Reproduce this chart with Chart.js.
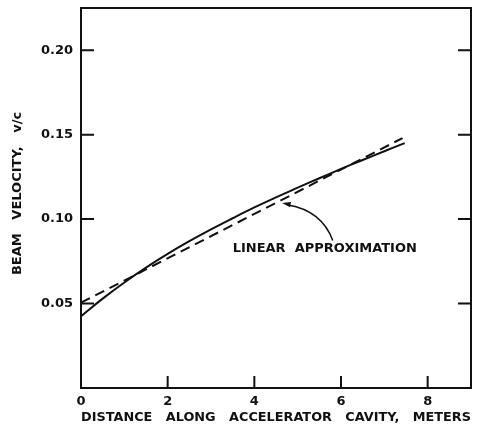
<!DOCTYPE html>
<html lang="en">
  <head>
    <meta charset="UTF-8" />
    <title>Beam Velocity</title>
    <script src="https://cdn.jsdelivr.net/npm/chart.js"></script>
    <style>
      html, body { margin: 0; padding: 0; background: #fff; }
      #wrap { width: 481px; height: 427px; }
    </style>
  </head>
  <body>
    <div id="wrap"><canvas id="beamChart"></canvas></div>
    <script>
      // curve (meters, v/c)
      const distance = [0, 0.5, 1, 1.5, 2, 2.5, 3, 3.5, 4, 4.5, 5, 5.5, 6, 6.5, 7, 7.47];
      const velocity = [0.0425, 0.0529, 0.0625, 0.0713, 0.0794, 0.0869, 0.0939, 0.1005,
                        0.1069, 0.1129, 0.1186, 0.1242, 0.1297, 0.1350, 0.1402, 0.1450];
      // the linear approximation
      const linearX = [0, 7.42];
      const linearY = [0.0505, 0.148];

      const xTicks = [0, 2, 4, 6, 8];
      const yTicks = [0.05, 0.10, 0.15, 0.20];

      const labelText = "LINEAR  APPROXIMATION";
      const labelAt = { x: 3.5, y: 0.0828 };
      const arrowFrom = { x: 5.81, y: 0.0874 };
      const arrowBend = { x: 5.55, y: 0.1050 };
      const arrowTo = { x: 4.64, y: 0.1095 };

      const font = "'DejaVu Sans', sans-serif";
      const ink = "#111";

      const toPoints = (xs, ys) => xs.map((x, i) => ({ x: x, y: ys[i] }));

      // frame, inward tick marks and the arrow annotation
      const framePlugin = {
        id: "frame",
        afterDraw(chart) {
          const ctx = chart.ctx;
          const a = chart.chartArea;
          const xs = chart.scales.x;
          const ys = chart.scales.y;
          ctx.save();
          ctx.strokeStyle = ink;
          ctx.lineWidth = 2;
          ctx.strokeRect(a.left, a.top, a.right - a.left, a.bottom - a.top);

          ctx.beginPath();
          yTicks.forEach((v) => {
            const py = ys.getPixelForValue(v);
            ctx.moveTo(a.left, py);
            ctx.lineTo(a.left + 13, py);
            ctx.moveTo(a.right, py);
            ctx.lineTo(a.right - 13, py);
          });
          xTicks.slice(1).forEach((v) => {
            const px = xs.getPixelForValue(v);
            ctx.moveTo(px, a.bottom);
            ctx.lineTo(px, a.bottom - 12);
          });
          ctx.stroke();

          // annotation
          ctx.fillStyle = ink;
          ctx.font = "bold 13px " + font;
          ctx.textAlign = "left";
          ctx.textBaseline = "middle";
          ctx.fillText(labelText, xs.getPixelForValue(labelAt.x), ys.getPixelForValue(labelAt.y));

          const fx = xs.getPixelForValue(arrowFrom.x), fy = ys.getPixelForValue(arrowFrom.y);
          const bx = xs.getPixelForValue(arrowBend.x), by = ys.getPixelForValue(arrowBend.y);
          const tx = xs.getPixelForValue(arrowTo.x), ty = ys.getPixelForValue(arrowTo.y);
          ctx.lineWidth = 1.5;
          ctx.beginPath();
          ctx.moveTo(fx, fy);
          ctx.quadraticCurveTo(bx, by, tx + 6, ty + 2);
          ctx.stroke();
          // arrow head
          const ang = Math.atan2(ty - by, tx - bx);
          ctx.beginPath();
          ctx.moveTo(tx, ty);
          ctx.lineTo(tx - 9 * Math.cos(ang - 0.3), ty - 9 * Math.sin(ang - 0.3));
          ctx.lineTo(tx - 9 * Math.cos(ang + 0.3), ty - 9 * Math.sin(ang + 0.3));
          ctx.closePath();
          ctx.fill();
          ctx.restore();
        },
      };

      new Chart(document.getElementById("beamChart"), {
        type: "line",
        data: {
          datasets: [
            {
              data: toPoints(distance, velocity),
              borderColor: ink,
              borderWidth: 2,
              pointRadius: 0,
              tension: 0.4,
              fill: false,
            },
            {
              data: toPoints(linearX, linearY),
              borderColor: ink,
              borderWidth: 2,
              borderDash: [10, 6],
              pointRadius: 0,
              fill: false,
            },
          ],
        },
        options: {
          responsive: true,
          maintainAspectRatio: false,
          animation: false,
          layout: { padding: { top: 8, right: 10, left: 0, bottom: 0 } },
          plugins: { legend: { display: false }, tooltip: { enabled: false } },
          scales: {
            x: {
              type: "linear",
              min: 0,
              max: 9,
              grid: { display: false, drawTicks: false },
              border: { display: false },
              afterBuildTicks: (scale) => {
                scale.ticks = xTicks.map((v) => ({ value: v }));
              },
              afterFit: (scale) => {
                scale.height = 39;
                scale.paddingLeft = 0;
                scale.paddingRight = 0;
              },
              ticks: {
                color: ink,
                padding: 6,
                maxRotation: 0,
                font: { family: font, size: 13, weight: "bold" },
              },
              title: {
                display: true,
                text: "DISTANCE   ALONG   ACCELERATOR   CAVITY,   METERS",
                color: ink,
                padding: { top: 0, bottom: 2 },
                font: { family: font, size: 13, weight: "bold" },
              },
            },
            y: {
              type: "linear",
              min: 0,
              max: 0.225,
              grid: { display: false, drawTicks: false },
              border: { display: false },
              afterBuildTicks: (scale) => {
                scale.ticks = yTicks.map((v) => ({ value: v }));
              },
              afterFit: (scale) => {
                scale.width = 81;
                scale.paddingTop = 0;
                scale.paddingBottom = 0;
              },
              ticks: {
                color: ink,
                padding: 8,
                callback: (v) => v.toFixed(2),
                font: { family: font, size: 13, weight: "bold" },
              },
              title: {
                display: true,
                text: "  BEAM   VELOCITY,   v/c",
                color: ink,
                padding: { top: 10, bottom: 0 },
                font: { family: font, size: 13, weight: "bold" },
              },
            },
          },
        },
        plugins: [framePlugin],
      });
    </script>
  </body>
</html>
